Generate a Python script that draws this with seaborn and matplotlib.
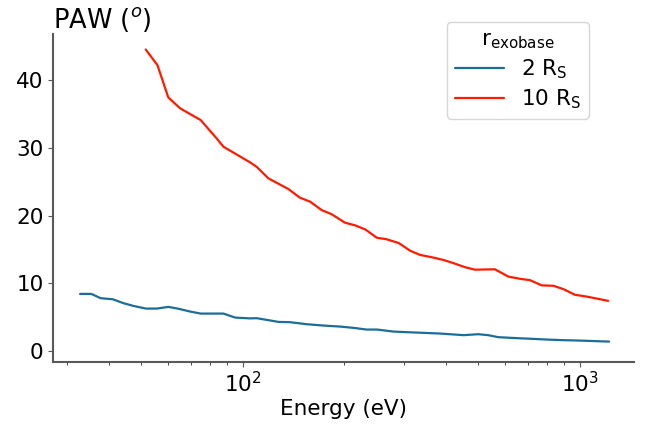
import pandas as pd
import seaborn as sns
import matplotlib
matplotlib.use("Agg")
import matplotlib.pyplot as plt

sns.set_style("ticks")
plt.rcParams['font.family'] = ['DejaVu Sans']
plt.rcParams['text.color'] = 'black'
plt.rcParams['axes.labelcolor'] = 'black'

# r_exobase = 2 R_S
energy_2 = [32.9, 35.5, 37.9, 41.1, 44.3, 47.3, 51.6, 55.6, 60.1, 64.1, 69.8, 75.0,
            87.6, 94.9, 105, 110, 127.6, 138, 154.8, 173.5, 194.5, 213, 233, 250,
            280, 307, 344, 385, 452, 500, 535, 573, 650, 728, 798, 894, 1001, 1123, 1222]
paw_2 = [8.42, 8.42, 7.78, 7.63, 7.04, 6.65, 6.25, 6.25, 6.5, 6.25, 5.81, 5.51,
         5.51, 4.92, 4.80, 4.83, 4.28, 4.24, 3.94, 3.74, 3.59, 3.40, 3.15, 3.15,
         2.85, 2.76, 2.66, 2.56, 2.32, 2.46, 2.32, 2.02, 1.88, 1.77, 1.67, 1.58, 1.52, 1.43, 1.37]

# r_exobase = 10 R_S
energy_10 = [51.5, 55.8, 60.1, 65.2, 75.0, 84.1, 87.6, 105.1, 110, 119.1, 136.5, 147.7,
             158.4, 171.6, 183.6, 201, 215, 231, 250, 267, 290, 314, 336, 364, 394,
             423, 457, 489, 560, 614, 665, 712, 771, 835, 894, 968, 1049, 1123, 1214]
paw_10 = [44.56, 42.25, 37.47, 35.85, 34.12, 31.27, 30.18, 27.87, 27.2, 25.5, 23.93, 22.65,
          22.06, 20.8, 20.2, 18.95, 18.57, 17.95, 16.72, 16.5, 15.95, 14.8, 14.18, 13.84, 13.44,
          12.95, 12.36, 12.0, 12.06, 10.98, 10.65, 10.45, 9.68, 9.62, 9.13, 8.29, 8.02, 7.73, 7.39]

labels = [r'2 $\mathregular{R_S}$', r'10 $\mathregular{R_S}$']
colors = ['#1a6e99', '#ff1a00']

df2 = pd.DataFrame({'energy': energy_2, 'paw': paw_2})
df10 = pd.DataFrame({'energy': energy_10, 'paw': paw_10})

fig = plt.figure(figsize=(6.55, 4.26), dpi=100)
ax = fig.add_axes([0.0814, 0.151, 0.8866, 0.7685])

sns.lineplot(data=df2, x='energy', y='paw', color=colors[0], lw=1.6, label=labels[0], ax=ax)
sns.lineplot(data=df10, x='energy', y='paw', color=colors[1], lw=1.6, label=labels[1], ax=ax)

ax.set_xscale('log')
ax.set_xlim(27.4, 1449)
ax.set_ylim(-1.6, 46.8)
ax.set_yticks([0, 10, 20, 30, 40])
ax.set_xlabel('Energy (eV)', fontsize=15.5, labelpad=2)
ax.set_ylabel('')
ax.set_title(r'PAW ($^o$)', loc='left', fontsize=18.5, pad=4)
ax.tick_params(labelsize=15.5, colors='0.35', labelcolor='black')
for s in ['left', 'bottom']:
    ax.spines[s].set_color('0.35')
    ax.spines[s].set_linewidth(1.5)
sns.despine(ax=ax)

leg = ax.legend(title=r'$\mathregular{r_{exobase}}$', loc='upper right',
                bbox_to_anchor=(0.922, 1.0375), borderaxespad=0, fontsize=15.5,
                title_fontsize=15.5, frameon=True, handlelength=2.3, borderpad=0.35,
                labelspacing=0.3)
leg.get_frame().set_edgecolor('0.8')

fig.savefig('out.png', dpi=100)
